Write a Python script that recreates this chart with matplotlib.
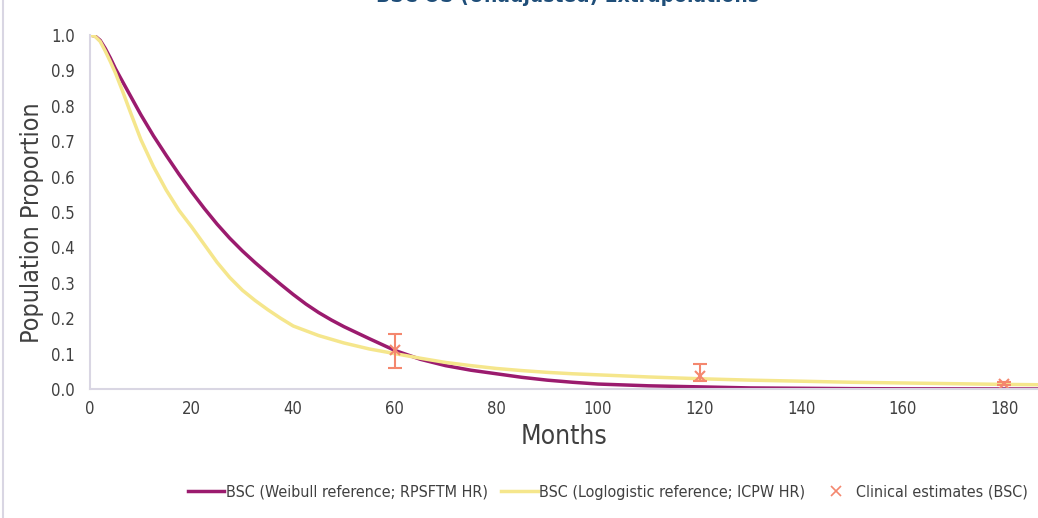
import matplotlib.pyplot as plt
from matplotlib.lines import Line2D

# Weibull reference; RPSFTM HR (purple)
weib_months = [0, 1, 2, 3, 4, 5, 7.5, 10, 12.5, 15, 17.5, 20, 22.5, 25, 27.5, 30,
               32.5, 35, 37.5, 40, 42.5, 45, 47.5, 50, 55, 60, 65, 70, 75,
               80, 85, 90, 95, 100, 110, 120, 130, 140, 150, 160, 187]
weib_surv = [1.0, 0.997, 0.985, 0.962, 0.935, 0.905, 0.84, 0.775, 0.715, 0.66,
             0.607, 0.557, 0.51, 0.466, 0.426, 0.39, 0.357, 0.326, 0.296, 0.267,
             0.24, 0.216, 0.195, 0.176, 0.142, 0.109, 0.084, 0.066, 0.053, 0.043,
             0.033, 0.025, 0.019, 0.014, 0.009, 0.006, 0.003, 0.002, 0.001, 0.0005, 0.0]

# Loglogistic reference; ICPW HR (yellow)
logl_months = [0, 1, 2, 3, 4, 5, 6.5, 8, 10, 12.5, 15, 17.5, 20, 22.5, 25, 27.5,
               30, 32.5, 35, 37.5, 40, 45, 50, 55, 60, 65, 70, 75, 80, 85, 90, 95,
               100, 110, 120, 130, 140, 150, 160, 170, 180, 187]
logl_surv = [1.0, 0.996, 0.982, 0.955, 0.925, 0.893, 0.838, 0.78, 0.705, 0.628,
             0.562, 0.505, 0.458, 0.408, 0.358, 0.315, 0.279, 0.25, 0.224, 0.2,
             0.178, 0.151, 0.13, 0.113, 0.10, 0.087, 0.075, 0.066, 0.058, 0.052,
             0.047, 0.043, 0.04, 0.034, 0.029, 0.025, 0.022, 0.019, 0.017, 0.015,
             0.013, 0.012]

# clinical estimates with ranges
clin_months = [60, 120, 180]
clin_est = [0.11, 0.037, 0.015]
clin_low = [0.06, 0.022, 0.01]
clin_high = [0.155, 0.07, 0.02]

purple = '#9B1B6E'
yellow = '#F5E68C'
salmon = '#F4876E'
spine_col = '#D9D6E3'
text_col = '#404040'

plt.rcParams['font.family'] = ['DejaVu Sans']
plt.rcParams['font.stretch'] = 'condensed'

fig = plt.figure(figsize=(10.38, 5.18), dpi=100)
ax = fig.add_axes([90 / 1038, 1 - 389 / 518, 1 - 90 / 1038, 354 / 518])

ax.plot(weib_months, weib_surv, color=purple, lw=2.5)
ax.plot(logl_months, logl_surv, color=yellow, lw=2.5)

err_lo = [e - l for e, l in zip(clin_est, clin_low)]
err_hi = [h - e for e, h in zip(clin_est, clin_high)]
ax.errorbar(clin_months, clin_est, yerr=[err_lo, err_hi], fmt='x', color=salmon,
            ms=7, mew=1.5, elinewidth=1.5, capsize=5, capthick=1.5)

ax.set_xlim(0, 186.6)
ax.set_ylim(0, 1.0)
ax.set_xticks(range(0, 181, 20))
ax.set_yticks([i / 10 for i in range(11)])
ax.set_yticklabels([f'{i / 10:.1f}' for i in range(11)])
ax.tick_params(length=0, labelsize=12, colors=text_col, pad=11)
ax.tick_params(axis='x', pad=8)
for s in ['top', 'right']:
    ax.spines[s].set_visible(False)
for s in ['left', 'bottom']:
    ax.spines[s].set_color(spine_col)
    ax.spines[s].set_linewidth(1.5)

ax.set_xlabel('Months', fontsize=19, color=text_col, labelpad=4)
ax.set_ylabel('Population Proportion', fontsize=18, color=text_col, labelpad=5)
ax.yaxis.label.set_y(0.47)

# title sits mostly above the picture, only its lower edge shows
fig.text(567 / 1038, 1 - 2 / 518, 'BSC OS (Unadjusted) Extrapolations', ha='center',
         va='baseline', fontsize=15, fontweight='bold', color='#1F4E79')

# left border of chart area
fig.add_artist(Line2D([3 / 1038, 3 / 1038], [0, 1], transform=fig.transFigure,
                      color=spine_col, lw=1.5))

handles = [Line2D([], [], color=purple, lw=2.5),
           Line2D([], [], color=yellow, lw=2.5),
           Line2D([], [], color=salmon, marker='x', ls='none', ms=7, mew=1.2)]
labels = ['BSC (Weibull reference; RPSFTM HR)', 'BSC (Loglogistic reference; ICPW HR)',
          'Clinical estimates (BSC)']
fig.legend(handles, labels, loc='center', bbox_to_anchor=(608 / 1038, 1 - 492 / 518),
           ncol=3, frameon=False, fontsize=11.5, handlelength=2.3, handletextpad=0.1,
           columnspacing=0.8, labelcolor=text_col)

fig.savefig('out.png', dpi=100)
